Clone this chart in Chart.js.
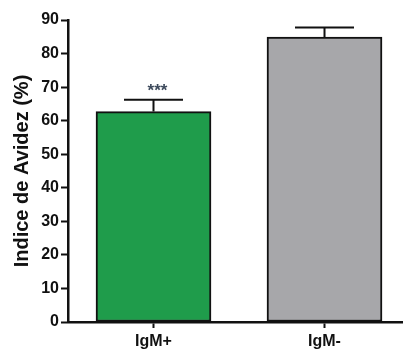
<!DOCTYPE html>
<html>
<head>
<meta charset="utf-8">
<script src="https://cdn.jsdelivr.net/npm/chart.js@4"></script>
<style>
  html, body { margin: 0; padding: 0; background: #fff; }
  #wrap { width: 403px; height: 351px; }
</style>
</head>
<body>
<div id="wrap"><canvas id="avidez"></canvas></div>
<script>
// Data
const categories = ['IgM+', 'IgM-'];
const means = [62.7, 84.9];
const errors = [3.5, 2.9];
const marks = ['***', ''];
const yTicks = [0, 10, 20, 30, 40, 50, 60, 70, 80, 90];

// Draw SEM error bars (upper only) and significance stars
const errorBars = {
    id: 'errorBars',
    afterDatasetsDraw(chart) {
        const ctx = chart.ctx;
        const xs = chart.scales.x;
        const ys = chart.scales.y;
        ctx.save();
        means.forEach((m, i) => {
            const x = xs.getPixelForValue(i);
            const yTop = ys.getPixelForValue(m);
            const yErr = ys.getPixelForValue(m + errors[i]);
            ctx.strokeStyle = '#111';
            ctx.lineWidth = 2;
            ctx.beginPath();
            ctx.moveTo(x, yTop);
            ctx.lineTo(x, yErr);
            ctx.moveTo(x - 29.5, yErr);
            ctx.lineTo(x + 29.5, yErr);
            ctx.stroke();
            if (marks[i]) {
                ctx.fillStyle = '#3d4a5c';
                ctx.font = 'bold 17px "Liberation Sans", Arial, sans-serif';
                ctx.textAlign = 'center';
                ctx.textBaseline = 'alphabetic';
                ctx.fillText(marks[i], x + 4, yErr - 4);
            }
        });
        ctx.restore();
    }
};

new Chart(document.getElementById('avidez'), {
    type: 'bar',
    data: {
        datasets: [{
            data: means.map((v, i) => ({ x: i, y: v })),
            backgroundColor: ['#1f9c4b', '#a7a7aa'],
            borderColor: '#111',
            borderWidth: 2,
            borderSkipped: false,
            barThickness: 115
        }]
    },
    options: {
        responsive: true,
        maintainAspectRatio: false,
        animation: false,
        layout: { padding: { top: 20, right: 0, left: 0, bottom: 0 } },
        plugins: {
            legend: { display: false },
            tooltip: { enabled: false }
        },
        scales: {
            x: {
                type: 'linear',
                offset: false,
                min: -0.5,
                max: 1.459,
                afterBuildTicks: (scale) => {
                    scale.ticks = categories.map((c, i) => ({ value: i }));
                },
                afterFit: (scale) => { scale.height = 29; },
                ticks: {
                    callback: (v) => categories[v],
                    color: '#111',
                    padding: 4,
                    font: { family: '"Liberation Sans", Arial, sans-serif', size: 16, weight: 'bold' }
                },
                grid: {
                    offset: false,
                    drawOnChartArea: false,
                    tickLength: 6,
                    tickWidth: 2,
                    tickColor: '#111'
                },
                border: { color: '#111', width: 2.5 }
            },
            y: {
                min: 0,
                max: 90,
                afterBuildTicks: (scale) => {
                    scale.ticks = yTicks.map(v => ({ value: v }));
                },
                afterFit: (scale) => { scale.width = 68; },
                ticks: {
                    color: '#111',
                    padding: 2,
                    font: { family: '"Liberation Sans", Arial, sans-serif', size: 16, weight: 'bold' }
                },
                grid: {
                    drawOnChartArea: false,
                    tickLength: 7,
                    tickWidth: 2,
                    tickColor: '#111'
                },
                border: { color: '#111', width: 2.5 },
                title: {
                    display: true,
                    text: 'Indice de Avidez (%)',
                    color: '#111',
                    padding: { top: 10, bottom: 0 },
                    font: { family: '"Liberation Sans", Arial, sans-serif', size: 20, weight: 'bold' }
                }
            }
        }
    },
    plugins: [errorBars]
});
</script>
</body>
</html>
